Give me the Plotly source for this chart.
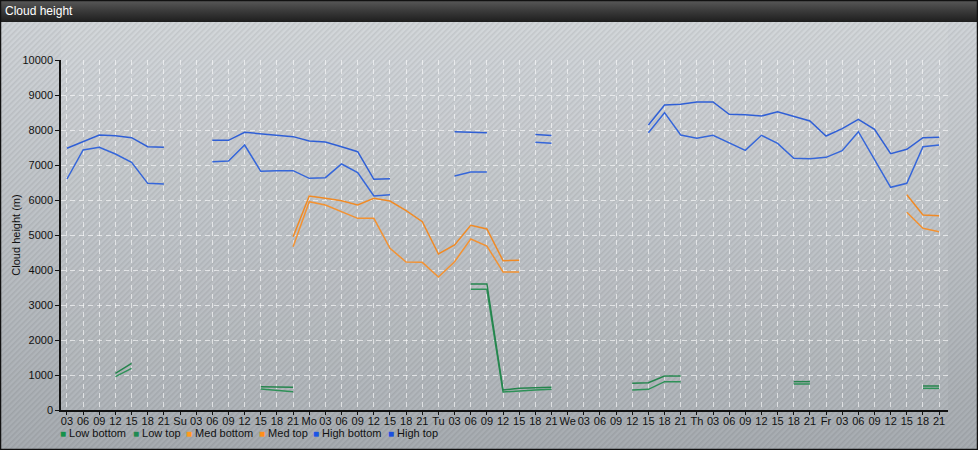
import base64
import plotly.graph_objects as go

# ---------------- data ----------------
tick_labels = ["03", "06", "09", "12", "15", "18", "21",
               "Su", "03", "06", "09", "12", "15", "18", "21",
               "Mo", "03", "06", "09", "12", "15", "18", "21",
               "Tu", "03", "06", "09", "12", "15", "18", "21",
               "We", "03", "06", "09", "12", "15", "18", "21",
               "Th", "03", "06", "09", "12", "15", "18", "21",
               "Fr", "03", "06", "09", "12", "15", "18", "21"]
slots = list(range(len(tick_labels)))  # 3-hourly slots

N = None
high_top = [7477, 7667, 7857, 7838, 7781, 7524, 7505, N, N,
            7705, 7705, 7933, 7886, 7857, 7810, 7686, 7657, 7524, 7381, 6590, 6610,
            N, N, N, 7950, 7930, 7920, N, N, 7870, 7840, N, N, N, N, N,
            8143, 8714, 8733, 8800, 8800, 8448, 8438, 8400, 8524, 8381, 8257,
            7829, 8038, 8305, 8019, 7324, 7448, 7781, 7790]
high_bottom = [6600, 7429, 7505, 7314, 7076, 6476, 6457, N, N,
               7095, 7114, 7571, 6819, 6838, 6838, 6619, 6638, 7029, 6781, 6114, 6150,
               N, N, N, 6686, 6800, 6800, N, N, 7650, 7620, N, N, N, N, N,
               7924, 8495, 7857, 7762, 7848, 7629, 7419, 7848, 7619, 7190, 7181,
               7219, 7410, 7952, 7170, 6362, 6476, 7524, 7571]
med_top = [N] * 14 + [4952, 6114, 6048, 5981, 5857, 6048, 5971, 5695, 5381,
                      4457, 4714, 5276, 5171, 4267, 4276] + [N] * 23 + [6152, 5571, 5552]
med_bottom = [N] * 14 + [4667, 5952, 5857, 5667, 5476, 5476, 4619, 4229, 4219,
                         3800, 4238, 4886, 4686, 3943, 3943] + [N] * 23 + [5648, 5190, 5095]
low_top = [N, N, N, 1048, 1333, N, N, N, N, N, N, N, 667, 667, 648,
           N, N, N, N, N, N, N, N, N, N, 3600, 3600, 571, 619, 638, 648,
           N, N, N, N, 762, 781, 971, 971, N, N, N, N, N, N, 810, 810,
           N, N, N, N, N, N, 686, 686]
low_bottom = [N, N, N, 952, 1190, N, N, N, N, N, N, N, 600, 552, 524,
              N, N, N, N, N, N, N, N, N, N, 3448, 3448, 514, 552, 571, 590,
              N, N, N, N, 571, 590, 810, 810, N, N, N, N, N, N, 743, 743,
              N, N, N, N, N, N, 619, 619]

series_names = ["Low bottom", "Low top", "Med bottom", "Med top", "High bottom", "High top"]
series_values = [low_bottom, low_top, med_bottom, med_top, high_bottom, high_top]
y_ticks = list(range(0, 10001, 1000))
y_tick_labels = [str(v) for v in y_ticks]

# ---------------- style ----------------
W, H = 978, 450
L, R, T, B = 61, 30, 60, 40
PW, PH = W - L - R, H - T - B
line_colors = ["#2e9158", "#25854d", "#f39232", "#f08a25", "#3566da", "#2f5fd6"]
legend_colors = ["#16924a", "#1f8a52", "#ff9a1e", "#ff8f1a", "#1a55e6", "#1a4fe0"]
FONT = "Liberation Sans, Arial, sans-serif"

svg = f"""<svg xmlns='http://www.w3.org/2000/svg' width='{W}' height='{H}'>
<defs>
<linearGradient id='g' x1='0' y1='0' x2='0' y2='1'>
<stop offset='0' stop-color='#d2d6da'/><stop offset='1' stop-color='#a7acb1'/></linearGradient>
<linearGradient id='t' x1='0' y1='0' x2='0' y2='1'>
<stop offset='0' stop-color='#5a5a5a'/><stop offset='0.5' stop-color='#3a3a3a'/><stop offset='1' stop-color='#1e1e1e'/></linearGradient>
<pattern id='h' width='4' height='4' patternUnits='userSpaceOnUse' patternTransform='rotate(45)'>
<rect width='1.6' height='4' fill='#000' fill-opacity='0.07'/></pattern>
</defs>
<rect width='{W}' height='{H}' fill='url(#g)'/>
<rect x='{L}' y='22' width='{PW}' height='{T + PH - 22}' fill='#ffffff' fill-opacity='0.07'/>
<rect width='{W}' height='{H}' fill='url(#h)'/>
<rect width='{W}' height='22' fill='url(#t)'/>
<rect x='0.5' y='0.5' width='{W - 1}' height='{H - 1}' fill='none' stroke='#111' stroke-width='1.5'/>
</svg>"""
svg_uri = "data:image/svg+xml;base64," + base64.b64encode(svg.encode()).decode()


def px_x(px):
    return (px - L) / PW


def px_y(py):
    return (T + PH - py) / PH


fig = go.Figure()
for name, vals, col in zip(series_names, series_values, line_colors):
    fig.add_trace(go.Scatter(x=slots, y=vals, mode="lines", name=name,
                             line=dict(color=col, width=1.5), connectgaps=False,
                             showlegend=False))

# legend as text items
legend_x = [59, 132, 185, 258, 312, 387]
for name, col, lx in zip(series_names, legend_colors, legend_x):
    fig.add_annotation(x=px_x(lx), y=px_y(433), xref="paper", yref="paper",
                       xanchor="left", yanchor="middle", showarrow=False, borderpad=0,
                       text=f"<span style='color:{col};font-size:10px'>■</span> {name}",
                       font=dict(family=FONT, size=11, color="#111"))

fig.add_layout_image(dict(source=svg_uri, xref="paper", yref="paper",
                          x=px_x(0), y=px_y(0), sizex=W / PW, sizey=H / PH,
                          xanchor="left", yanchor="top", sizing="stretch",
                          layer="below"))

fig.update_layout(
    width=W, height=H,
    margin=dict(l=L, r=R, t=T, b=B, autoexpand=False),
    paper_bgcolor="#b9bdc1",
    plot_bgcolor="rgba(0,0,0,0)",
    title=dict(text="Cloud height", x=5 / W, xanchor="left",
               y=1 - 11 / H, yanchor="middle",
               font=dict(family=FONT, size=12, color="#ffffff")),
    font=dict(family=FONT, size=11, color="#111"),
    showlegend=False,
)
fig.update_xaxes(range=[-0.37, 54.55], tickmode="array", tickvals=slots, ticktext=tick_labels,
                 tickangle=0, automargin=False,
                 showline=True, linecolor="#111", linewidth=1.5,
                 ticks="outside", ticklen=3, tickcolor="#111", ticklabelstandoff=-3,
                 showgrid=True, gridcolor="rgba(255,255,255,0.6)", griddash="5px,4px", gridwidth=1,
                 tickfont=dict(family=FONT, size=11, color="#111"), zeroline=False, fixedrange=True)
fig.update_yaxes(range=[0, 10000], tickmode="array", tickvals=y_ticks, ticktext=y_tick_labels,
                 automargin=False,
                 showline=True, linecolor="#111", linewidth=1.5,
                 ticks="outside", ticklen=4, tickcolor="#111",
                 showgrid=True, gridcolor="rgba(255,255,255,0.6)", griddash="5px,4px", gridwidth=1,
                 tickfont=dict(family=FONT, size=11, color="#111"), zeroline=False,
                 title=dict(text="Cloud height (m)", font=dict(family=FONT, size=11, color="#111"),
                            standoff=0), fixedrange=True)

fig.write_html("out.html", config={"displayModeBar": False},
               post_script="document.body.style.margin='0px';document.body.style.padding='0px';")
